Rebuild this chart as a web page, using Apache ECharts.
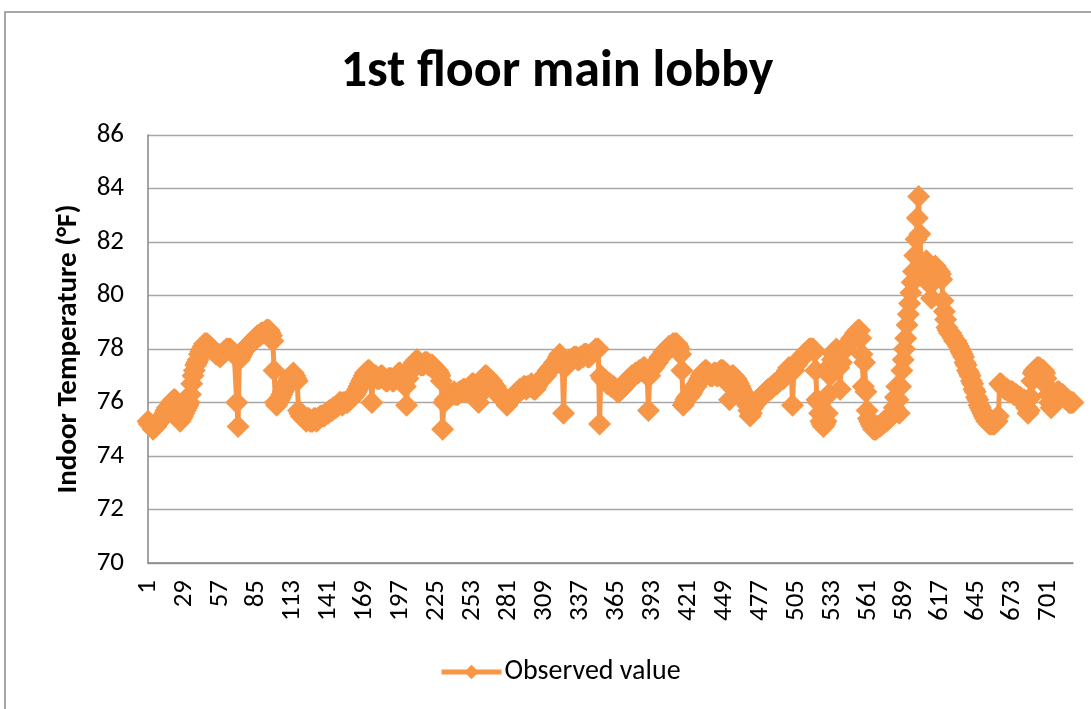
<!DOCTYPE html>
<html>
<head>
<meta charset="utf-8">
<title>1st floor main lobby</title>
<script src="https://cdn.jsdelivr.net/npm/echarts@6/dist/echarts.min.js"></script>
<style>
  html, body { margin: 0; padding: 0; background: #ffffff; }
  #chart { width: 1091px; height: 709px; }
</style>
</head>
<body>
<div id="chart"></div>
<script>
// Hourly indoor temperature readings (°F), 720 observations, split into five-day blocks.
const days01to05 = [
  75.3,75.2,75.2,75.1,75.0,75.1,75.1,75.2,75.3,75.3,75.4,75.4,75.5,75.6,75.7,75.8,75.8,75.9,76.0,76.0,
  76.1,76.1,76.0,75.7,75.4,75.3,75.4,75.5,75.6,75.7,75.8,75.9,76.0,76.3,76.7,77.0,77.2,77.4,77.5,77.6,
  77.8,77.9,78.0,78.1,78.2,78.2,78.2,78.1,78.1,78.0,78.0,77.9,77.9,77.8,77.8,77.8,77.7,77.8,77.8,77.9,
  77.9,78.0,78.0,78.0,78.0,77.9,77.9,77.8,77.8,76.0,75.1,77.6,77.7,77.8,77.9,78.0,78.0,78.1,78.1,78.2,
  78.2,78.3,78.3,78.4,78.4,78.5,78.5,78.5,78.6,78.6,78.6,78.6,78.7,78.7,78.7,78.6,78.5,78.3,77.2,76.0,
  75.9,76.0,76.1,76.2,76.3,76.4,76.5,76.6,76.7,76.8,76.9,77.0,77.0,77.1,77.0,76.9,76.8,75.7,75.6,75.5
];
const days06to10 = [
  75.5,75.4,75.4,75.3,75.4,75.4,75.3,75.3,75.3,75.4,75.4,75.3,75.4,75.4,75.5,75.5,75.5,75.5,75.6,75.6,
  75.6,75.7,75.7,75.7,75.8,75.8,75.8,75.9,75.9,76.0,76.0,75.9,76.0,76.0,76.0,76.0,76.1,76.1,76.2,76.2,
  76.3,76.3,76.4,76.5,76.6,76.7,76.8,76.9,77.0,77.1,77.1,77.2,77.2,77.1,76.0,77.0,77.0,77.0,76.9,76.9,
  76.9,77.0,77.0,76.9,76.9,76.8,76.8,76.9,76.9,76.9,76.8,76.8,76.9,77.0,77.0,77.1,77.1,77.0,76.9,76.8,
  76.6,75.9,76.9,77.1,77.2,77.3,77.4,77.5,77.5,77.6,77.5,77.5,77.4,77.4,77.4,77.5,77.5,77.5,77.4,77.4,
  77.4,77.4,77.3,77.3,77.2,77.2,77.1,77.0,76.8,75.0,76.0,76.1,76.1,76.2,76.2,76.3,76.3,76.3,76.4,76.3
];
const days11to15 = [
  76.3,76.3,76.4,76.4,76.4,76.5,76.5,76.4,76.4,76.5,76.6,76.6,76.7,76.7,76.6,76.4,76.2,76.0,76.3,76.6,
  76.8,76.9,77.0,77.0,76.9,76.9,76.8,76.8,76.7,76.6,76.6,76.5,76.4,76.3,76.2,76.2,76.1,76.1,76.0,75.9,
  76.0,76.1,76.1,76.2,76.2,76.3,76.3,76.4,76.4,76.5,76.5,76.5,76.6,76.6,76.5,76.6,76.6,76.6,76.7,76.6,
  76.5,76.5,76.6,76.7,76.8,76.8,76.9,76.9,77.0,77.0,77.1,77.2,77.2,77.3,77.3,77.4,77.5,77.5,77.6,77.7,
  77.8,77.7,77.4,75.6,77.3,77.4,77.5,77.5,77.6,77.6,77.6,77.7,77.7,77.7,77.6,77.6,77.7,77.7,77.7,77.8,
  77.8,77.8,77.7,77.7,77.8,77.8,77.9,77.9,78.0,78.0,78.0,75.2,77.0,76.9,76.9,76.8,76.8,76.7,76.7,76.7
];
const days16to20 = [
  76.6,76.6,76.6,76.5,76.5,76.4,76.4,76.5,76.5,76.6,76.6,76.7,76.8,76.8,76.9,76.9,77.0,77.0,77.0,77.1,
  77.1,77.1,77.2,77.2,77.2,77.3,77.3,77.2,77.0,75.7,77.0,77.2,77.3,77.3,77.4,77.5,77.5,77.6,77.7,77.7,
  77.8,77.9,77.9,78.0,78.0,78.1,78.1,78.1,78.2,78.2,78.2,78.2,78.1,78.0,77.8,77.2,75.9,76.0,76.1,76.2,
  76.2,76.3,76.3,76.4,76.5,76.6,76.6,76.7,76.8,76.9,77.0,77.1,77.1,77.2,77.2,77.1,77.1,77.0,77.0,77.0,
  77.1,77.1,77.0,77.0,77.1,77.2,77.2,77.2,77.1,77.1,77.0,76.7,76.1,76.8,77.0,77.0,76.9,76.9,76.8,76.7,
  76.6,76.5,76.4,76.3,76.2,76.0,75.9,75.7,75.5,75.6,75.8,75.9,76.0,76.0,76.1,76.1,76.2,76.2,76.3,76.3
];
const days21to25 = [
  76.4,76.4,76.5,76.5,76.5,76.6,76.6,76.7,76.7,76.7,76.8,76.8,76.9,76.9,76.9,77.0,77.1,77.2,77.3,77.3,
  77.2,75.9,77.2,77.4,77.4,77.5,77.6,77.6,77.7,77.7,77.8,77.8,77.9,77.9,78.0,78.0,78.0,78.0,77.9,77.2,
  76.1,76.0,75.6,75.3,75.2,75.1,75.2,75.3,75.6,76.3,77.0,77.4,77.6,77.8,77.9,78.0,77.8,77.3,76.5,77.5,
  77.9,78.0,78.0,78.1,78.2,78.2,78.3,78.4,78.4,78.5,78.6,78.6,78.7,78.7,78.4,77.8,76.6,77.5,76.4,75.7,
  75.4,75.3,75.2,75.1,75.0,75.0,75.0,75.1,75.1,75.1,75.2,75.2,75.3,75.3,75.3,75.4,75.4,75.5,75.5,75.6,
  75.8,76.2,76.6,76.1,75.6,76.6,77.2,77.6,78.0,78.4,78.9,79.3,79.7,80.1,80.5,80.9,81.5,82.1,82.9,83.7
];
const days26to30 = [
  82.3,81.2,80.9,81.0,81.2,81.3,81.2,81.0,80.4,79.9,80.5,81.0,81.1,81.0,80.9,80.9,80.8,80.6,79.8,79.4,
  79.1,78.8,78.7,78.6,78.6,78.5,78.4,78.3,78.3,78.2,78.1,78.0,77.9,77.8,77.7,77.5,77.4,77.2,77.1,77.0,
  76.8,76.7,76.5,76.4,76.2,76.1,75.9,75.8,75.7,75.6,75.5,75.4,75.3,75.3,75.2,75.2,75.2,75.2,75.2,75.3,
  75.3,75.5,76.7,76.7,76.6,76.6,76.5,76.5,76.5,76.4,76.4,76.4,76.4,76.3,76.3,76.3,76.2,76.2,76.2,76.1,
  76.1,76.1,76.0,75.8,75.6,75.7,76.2,76.8,77.1,77.2,77.2,77.3,77.3,77.3,77.2,77.2,77.2,77.1,76.9,76.6,
  76.3,76.0,75.8,75.9,76.1,76.3,76.3,76.4,76.4,76.3,76.3,76.3,76.2,76.2,76.1,76.1,76.0,76.0,76.0,76.0
];

const observed = [].concat(days01to05, days06to10, days11to15, days16to20, days21to25, days26to30);
// Observation numbers 1..720 label the category axis.
const observationNumbers = observed.map((_, i) => String(i + 1));
const yTicks = { min: 70, max: 86, step: 2 };

const FONT = 'Carlito, Lato, sans-serif';
const ORANGE = '#F79646';

const chart = echarts.init(document.getElementById('chart'), null, { renderer: 'canvas' });
chart.setOption({
  animation: false,
  backgroundColor: '#ffffff',
  textStyle: { fontFamily: FONT, color: '#000000' },
  graphic: [{
    type: 'rect',
    shape: { x: 5, y: 12, width: 1200, height: 800 },
    style: { fill: 'none', stroke: '#8a8a8a', lineWidth: 1.5 },
    silent: true,
    z: -1
  }],
  title: {
    text: '1st floor main lobby',
    left: 552,
    textAlign: 'center',
    top: 42,
    textStyle: { fontFamily: FONT, fontSize: 52, fontWeight: 'bold', color: '#000000' }
  },
  legend: {
    data: ['Observed value'],
    left: 434,
    top: 653,
    itemWidth: 60,
    itemHeight: 18,
    itemGap: 3,
    lineStyle: { width: 5 },
    textStyle: { fontFamily: FONT, fontSize: 28, color: '#000000', padding: [0, 0, 0, -2] }
  },
  grid: { left: 148, right: 18, top: 135, bottom: 146, containLabel: false },
  xAxis: {
    type: 'category',
    data: observationNumbers,
    boundaryGap: false,
    axisLine: { lineStyle: { color: '#868686', width: 1.5 } },
    axisTick: { show: false },
    axisLabel: {
      interval: 27,
      rotate: 90,
      margin: 17,
      fontFamily: FONT,
      fontSize: 27,
      color: '#000000'
    },
    splitLine: { show: false }
  },
  yAxis: {
    type: 'value',
    min: yTicks.min,
    max: yTicks.max,
    interval: yTicks.step,
    name: 'Indoor Temperature (°F)',
    nameLocation: 'middle',
    nameGap: 65,
    nameTextStyle: { fontFamily: FONT, fontSize: 29, fontWeight: 'bold', color: '#000000' },
    axisLine: { show: true, lineStyle: { color: '#868686', width: 1.5 } },
    axisTick: { show: false },
    axisLabel: { margin: 24, fontFamily: FONT, fontSize: 27, color: '#000000' },
    splitLine: { lineStyle: { color: '#a6a6a6', width: 1.3 } }
  },
  series: [{
    name: 'Observed value',
    type: 'line',
    data: observed,
    symbol: 'diamond',
    symbolSize: 23,
    showAllSymbol: true,
    lineStyle: { color: ORANGE, width: 5 },
    itemStyle: { color: ORANGE, borderWidth: 0 },
    emphasis: { disabled: true }
  }]
});
</script>
</body>
</html>
